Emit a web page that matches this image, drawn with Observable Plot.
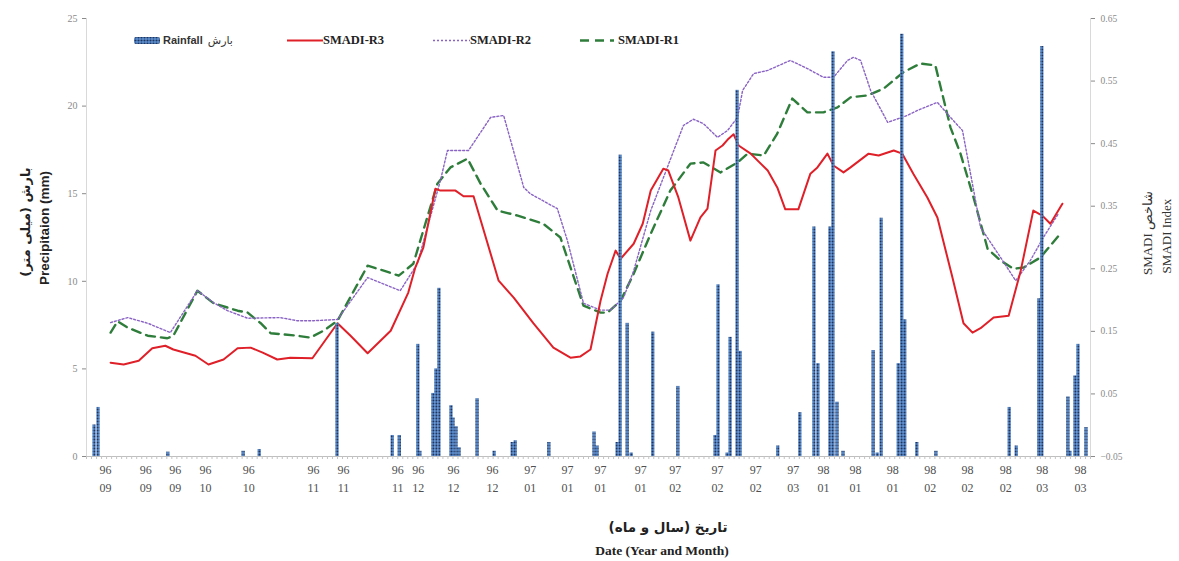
<!DOCTYPE html>
<html>
<head>
<meta charset="utf-8">
<script src="https://cdn.jsdelivr.net/npm/d3@7"></script>
<script src="https://cdn.jsdelivr.net/npm/@observablehq/plot@0.6"></script>
<style>
  html, body { margin: 0; padding: 0; background: #fff; }
  #wrap { position: relative; width: 1179px; height: 561px; overflow: hidden; background: #fff; }
  .abs { position: absolute; white-space: nowrap; }
  .rot { transform: translate(-50%, -50%) rotate(-90deg); }
  .ctr { transform: translate(-50%, -50%); }
  .leg { position: absolute; display: flex; align-items: center; white-space: nowrap; }
</style>
</head>
<body>
<div id="wrap"></div>
<script>
// ---------- data ----------
// x = position along the category axis (0..200), rainfall in mm
const rainX = [1.6, 2.4, 16.3, 31.3, 34.5, 50.0, 61.0, 62.4, 66.1, 66.5, 69.1, 69.7, 70.3, 72.7, 73.1, 73.7, 74.3, 77.9, 81.3, 84.9, 85.5, 92.2, 101.2, 101.8, 105.8, 106.4, 107.8, 108.6, 112.9, 117.9, 125.3, 125.9, 127.7, 128.3, 129.7, 130.3, 137.8, 142.2, 145.0, 145.8, 148.2, 148.8, 149.6, 150.8, 156.8, 157.6, 158.4, 161.8, 162.5, 163.1, 165.5, 169.3, 183.9, 185.3, 189.8, 190.4, 195.6, 196.0, 197.0, 197.6, 199.2];
const rainMm = [1.8, 2.8, 0.25, 0.3, 0.4, 7.6, 1.2, 1.2, 6.4, 0.3, 3.6, 5.0, 9.6, 2.9, 2.2, 1.7, 0.5, 3.3, 0.3, 0.8, 0.9, 0.8, 1.4, 0.6, 0.8, 17.2, 7.6, 0.2, 7.1, 4.0, 1.2, 9.8, 0.2, 6.8, 20.9, 6.0, 0.6, 2.5, 13.1, 5.3, 13.1, 23.1, 3.1, 0.3, 6.05, 0.2, 13.6, 5.3, 24.1, 7.8, 0.8, 0.3, 2.8, 0.6, 9.0, 23.4, 3.4, 0.3, 4.6, 6.4, 1.65];

// SMADI-R3
const r3X = [4.8, 7.4, 10.4, 13.1, 15.7, 17.3, 21.7, 24.3, 27.3, 30.1, 32.7, 35.1, 38.0, 40.6, 45.0, 50.0, 52.6, 56.0, 60.6, 64.1, 65.5, 67.1, 69.5, 70.5, 73.5, 75.1, 77.1, 82.1, 85.1, 89.0, 93.0, 96.4, 98.4, 100.4, 102.4, 103.8, 105.4, 106.4, 109.0, 110.8, 112.4, 114.9, 115.9, 117.9, 120.3, 122.3, 123.7, 125.3, 126.7, 127.9, 128.9, 129.9, 132.3, 135.7, 137.6, 139.2, 141.8, 144.2, 145.6, 147.6, 148.8, 150.8, 152.2, 155.8, 157.8, 160.8, 162.5, 164.7, 167.5, 169.5, 172.5, 174.7, 176.5, 178.1, 180.7, 183.7, 186.1, 188.6, 190.4, 192.0, 194.4];
const r3Val = [0.100, 0.097, 0.103, 0.123, 0.127, 0.121, 0.111, 0.097, 0.105, 0.123, 0.124, 0.116, 0.105, 0.108, 0.107, 0.163, 0.143, 0.115, 0.151, 0.212, 0.252, 0.284, 0.378, 0.375, 0.375, 0.366, 0.366, 0.231, 0.204, 0.163, 0.124, 0.108, 0.110, 0.121, 0.199, 0.242, 0.279, 0.266, 0.290, 0.322, 0.375, 0.410, 0.407, 0.364, 0.295, 0.332, 0.346, 0.439, 0.447, 0.458, 0.465, 0.447, 0.434, 0.407, 0.380, 0.345, 0.345, 0.402, 0.412, 0.434, 0.415, 0.404, 0.412, 0.434, 0.431, 0.439, 0.434, 0.402, 0.364, 0.332, 0.236, 0.163, 0.148, 0.155, 0.172, 0.175, 0.247, 0.343, 0.335, 0.322, 0.354];

// SMADI-R2
const r2X = [4.8, 8.2, 12.2, 16.7, 22.1, 25.3, 28.1, 32.1, 38.6, 42.0, 45.2, 50.0, 56.0, 62.5, 65.9, 70.5, 71.9, 76.1, 80.5, 83.1, 87.1, 88.4, 93.8, 95.8, 99.0, 102.4, 104.4, 107.0, 109.0, 112.4, 115.7, 118.9, 120.9, 122.9, 125.7, 127.7, 129.7, 130.7, 132.9, 135.7, 140.2, 143.6, 146.8, 148.8, 151.6, 152.8, 154.2, 156.2, 159.6, 163.5, 165.5, 169.5, 172.1, 174.5, 178.1, 182.1, 185.1, 188.0, 190.6, 193.6];
const r2Val = [0.164, 0.172, 0.163, 0.148, 0.215, 0.196, 0.183, 0.171, 0.172, 0.167, 0.167, 0.169, 0.236, 0.215, 0.258, 0.391, 0.439, 0.439, 0.492, 0.495, 0.380, 0.370, 0.346, 0.295, 0.195, 0.184, 0.184, 0.204, 0.247, 0.343, 0.412, 0.479, 0.489, 0.482, 0.460, 0.471, 0.492, 0.535, 0.562, 0.567, 0.583, 0.570, 0.556, 0.556, 0.583, 0.588, 0.583, 0.535, 0.484, 0.495, 0.503, 0.516, 0.492, 0.471, 0.316, 0.268, 0.231, 0.263, 0.300, 0.338];

// SMADI-R1
const r1X = [4.8, 6.2, 8.2, 12.2, 16.1, 17.3, 22.1, 25.3, 30.1, 32.1, 34.7, 36.7, 42.0, 44.6, 47.2, 50.0, 56.0, 59.2, 62.2, 65.1, 69.9, 72.5, 75.9, 78.5, 81.9, 85.9, 91.0, 94.4, 99.0, 102.4, 103.8, 106.4, 109.0, 112.4, 116.3, 120.3, 122.9, 126.3, 129.7, 131.7, 134.9, 137.6, 140.6, 143.6, 146.8, 149.6, 152.2, 155.6, 158.8, 162.7, 166.1, 169.1, 172.1, 174.1, 176.7, 179.5, 182.1, 184.7, 186.7, 190.0, 194.0];
const r1Val = [0.148, 0.166, 0.156, 0.143, 0.139, 0.143, 0.215, 0.195, 0.183, 0.180, 0.163, 0.147, 0.143, 0.140, 0.151, 0.167, 0.255, 0.247, 0.239, 0.258, 0.386, 0.412, 0.426, 0.386, 0.343, 0.335, 0.322, 0.300, 0.191, 0.180, 0.180, 0.199, 0.242, 0.306, 0.375, 0.418, 0.420, 0.404, 0.420, 0.434, 0.431, 0.466, 0.522, 0.500, 0.500, 0.508, 0.524, 0.527, 0.538, 0.564, 0.578, 0.575, 0.476, 0.434, 0.364, 0.282, 0.263, 0.250, 0.252, 0.268, 0.306];

// x tick labels (year / month)
const tickPos = [3.8, 11.8, 17.7, 23.7, 32.3, 45.2, 51.2, 62.0, 66.1, 73.1, 80.9, 88.4, 95.8, 102.4, 110.4, 117.3, 125.7, 133.3, 140.8, 146.8, 153.2, 160.6, 168.1, 175.5, 183.1, 190.4, 198.0];
const tickYear = ["96","96","96","96","96","96","96","96","96","96","96","97","97","97","97","97","97","97","97","98","98","98","98","98","98","98","98"];
const tickMonth = ["09","09","09","10","10","11","11","11","12","12","12","01","01","01","01","02","02","02","03","01","01","01","02","02","02","03","03"];

const leftTicks = [0, 5, 10, 15, 20, 25];
const rightTicks = [-0.05, 0.05, 0.15, 0.25, 0.35, 0.45, 0.55, 0.65];

// ---------- scales mapping: right axis (SMADI, -0.05..0.65) onto left (0..25 mm) ----------
const toLeft = s => (s + 0.05) * 25 / 0.7;
const toRight = y => y * 0.7 / 25 - 0.05;

const rain = rainX.map((x, k) => ({x, v: rainMm[k]}));
const series = (xs, vs) => xs.map((x, k) => ({x, y: toLeft(vs[k])}));

const serif = "'Liberation Serif', 'DejaVu Serif', serif";

const chart = Plot.plot({
  width: 1179,
  height: 561,
  marginTop: 18,
  marginBottom: 105,
  marginLeft: 86,
  marginRight: 89,
  x: {domain: [0, 200], label: null},
  y: {domain: [0, 25], label: null},
  style: {fontFamily: serif, background: "white", overflow: "visible"},
  marks: [
    Plot.ruleX([0, 200], {stroke: "#d9d9d9"}),
    Plot.line(series(r1X, r1Val), {x: "x", y: "y", stroke: "#2f7d3b", strokeWidth: 2.4, strokeDasharray: "9,6"}),
    Plot.line(series(r2X, r2Val), {x: "x", y: "y", stroke: "#8a63c4", strokeWidth: 1.4, strokeDasharray: "2,2"}),
    Plot.line(series(r3X, r3Val), {x: "x", y: "y", stroke: "#df2029", strokeWidth: 2}),
    Plot.rectY(rain, {x1: d => d.x - 0.33, x2: d => d.x + 0.33, y1: 0, y2: "v", fill: "url(#rainPat)"}),
    Plot.ruleY([0], {stroke: "#bfbfbf"}),
    Plot.axisX({ticks: d3.range(0, 201, 1), tickSize: 3, tickFormat: () => "", color: "#c4c4c4", label: null}),
    Plot.axisX({
      ticks: tickPos, tickSize: 0, tickPadding: 5, fontSize: 12, color: "#505050", lineHeight: 1.5, label: null,
      tickFormat: d => { const k = tickPos.indexOf(d); return tickYear[k] + "\n" + tickMonth[k]; }
    }),
    Plot.axisY({ticks: leftTicks, tickSize: 4, tickPadding: 5, fontSize: 10, color: "#8a8a8a", label: null}),
    Plot.axisY({
      anchor: "right", ticks: rightTicks.map(toLeft), tickSize: 4, tickPadding: 6, fontSize: 9.5, color: "#8a8a8a", label: null,
      tickFormat: d => d3.format(".2f")(toRight(d))
    })
  ]
});

// dotted fill pattern for the rainfall bars
d3.select(chart).insert("defs", ":first-child").html(
  '<pattern id="rainPat" width="3" height="3" patternUnits="userSpaceOnUse">' +
  '<rect width="3" height="3" fill="#5d8fd0"/><circle cx="1.5" cy="1.5" r="1.05" fill="#1f3560"/></pattern>'
);

const wrap = document.getElementById("wrap");
wrap.appendChild(chart);

function addText(html, cls, style) {
  const el = document.createElement("div");
  el.className = "abs " + cls;
  el.setAttribute("style", style);
  el.innerHTML = html;
  wrap.appendChild(el);
  return el;
}

// axis titles
addText('<span dir="rtl">بارش (میلی متر)</span>', "rot", `left:25px; top:222px; font: bold 13px 'DejaVu Sans', sans-serif; color:#222;`);
addText('Precipitaion (mm)', "rot", `left:44px; top:228px; font: bold 13.5px 'Liberation Sans', sans-serif; color:#222;`);
addText('<span dir="rtl">شاخص SMADI</span>', "rot", `left:1148px; top:233px; font: 13px ${serif}; color:#333;`);
addText('SMADI Index', "rot", `left:1167px; top:236px; font: 13px ${serif}; color:#333;`);
addText('<span dir="rtl">تاریخ (سال و ماه)</span>', "ctr", `left:668px; top:527px; font: bold 13.5px 'DejaVu Sans', sans-serif; color:#222;`);
addText('Date (Year and Month)', "ctr", `left:662px; top:551px; font: bold 13.5px ${serif}; color:#222;`);

// legend
function legend(left, swatch, labelHtml) {
  const el = document.createElement("div");
  el.className = "leg";
  el.setAttribute("style", `left:${left}px; top:31px; height:18px;`);
  el.innerHTML = swatch + labelHtml;
  wrap.appendChild(el);
}
legend(134,
  '<svg width="26" height="9"><defs><pattern id="rainPatL" width="3" height="3" patternUnits="userSpaceOnUse"><rect width="3" height="3" fill="#5d8fd0"/><circle cx="1.5" cy="1.5" r="1.05" fill="#1f3560"/></pattern></defs><rect x="0" y="1" width="26" height="7" rx="2" fill="url(#rainPatL)"/></svg>',
  `<span style="font: bold 11px 'Liberation Sans', sans-serif; color:#333; margin-left:3px;">Rainfall</span><span dir="rtl" style="font: 11px 'DejaVu Sans', sans-serif; color:#333; margin-left:5px;">بارش</span>`);
legend(287,
  '<svg width="36" height="9"><line x1="0" x2="36" y1="4.5" y2="4.5" stroke="#df2029" stroke-width="2"/></svg>',
  `<span style="font: bold 12.5px ${serif}; color:#222;">SMADI-R3</span>`);
legend(433,
  '<svg width="37" height="9"><line x1="0" x2="37" y1="4.5" y2="4.5" stroke="#8a63c4" stroke-width="1.4" stroke-dasharray="2,2"/></svg>',
  `<span style="font: bold 12.5px ${serif}; color:#222;">SMADI-R2</span>`);
legend(580,
  '<svg width="36" height="9"><line x1="0" x2="34" y1="4.5" y2="4.5" stroke="#2f7d3b" stroke-width="2.4" stroke-dasharray="9,6"/></svg>',
  `<span style="font: bold 12.5px ${serif}; color:#222; margin-left:2px;">SMADI-R1</span>`);
</script>
</body>
</html>
